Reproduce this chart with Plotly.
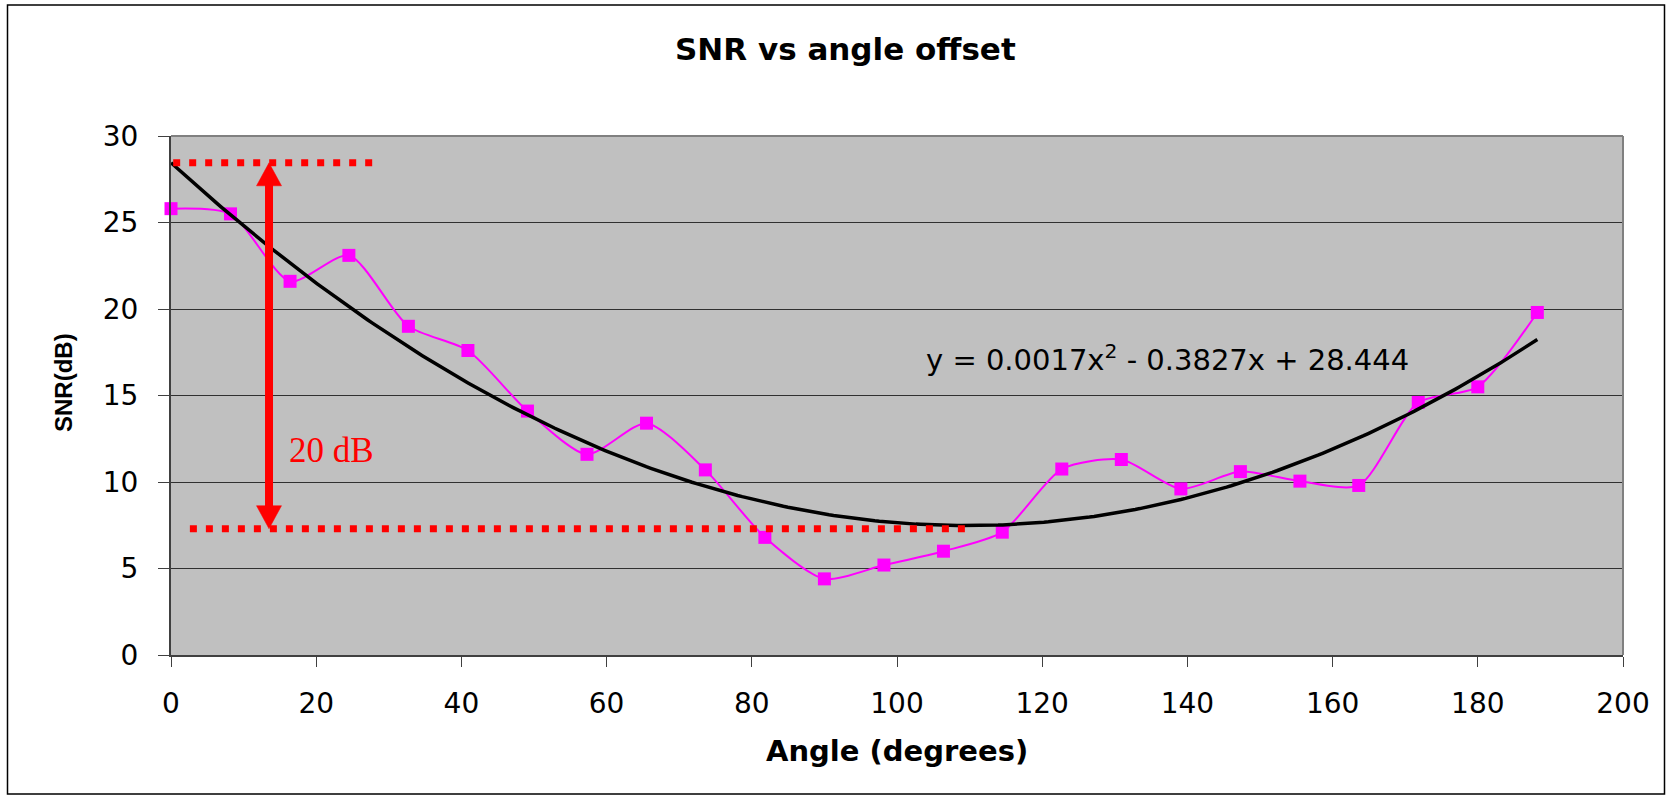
import numpy as np
import plotly.graph_objects as go

# Measured SNR at each angle offset
angle_deg = [0.0, 8.2, 16.4, 24.5, 32.7, 40.9, 49.1, 57.3, 65.5, 73.6, 81.8, 90.0,
             98.2, 106.4, 114.5, 122.7, 130.9, 139.1, 147.3, 155.5, 163.6, 171.8, 180.0, 188.2]
snr_db = [25.8, 25.5, 21.6, 23.1, 19.0, 17.6, 14.1, 11.6, 13.4, 10.7, 6.8, 4.4,
          5.2, 6.0, 7.1, 10.75, 11.3, 9.6, 10.6, 10.05, 9.8, 14.6, 15.5, 19.8]

x_ticks = [0, 20, 40, 60, 80, 100, 120, 140, 160, 180, 200]
y_ticks = [0, 5, 10, 15, 20, 25, 30]

title_text = "SNR vs angle offset"
x_title = "Angle (degrees)"
y_title = "SNR(dB)"
trend_label = "y = 0.0017x<sup>2</sup> - 0.3827x + 28.444"

# Range markers drawn over the plot
peak_level = 28.45
floor_level = 7.3
peak_span = [0.3, 28.0]
floor_span = [2.6, 109.4]
arrow_x = 13.5
span_label = "20 dB"

# Second-order polynomial trendline (least squares)
coeffs = np.polyfit(angle_deg, snr_db, 2)
trend_x = np.linspace(min(angle_deg), max(angle_deg), 300)
trend_y = np.polyval(coeffs, trend_x)

W, H = 1671, 796
L, R, T, B = 171, 48, 136, 141
pw, ph = W - L - R, H - T - B
x_max, y_max = 200, 30


def px_x(p):
    return (p - L) / pw


def px_y(p):
    return (H - B - p) / ph


def data_x(p):
    return (p - L) / pw * x_max


def data_y(p):
    return (H - B - p) / ph * y_max


# arrowhead size in pixels converted to axis units
head_len = 23 / ph * y_max
head_half = 12.5 / pw * x_max

fig = go.Figure()

fig.add_trace(go.Scatter(
    x=angle_deg, y=snr_db, mode="lines+markers",
    line=dict(color="#FF00FF", width=2, shape="spline", smoothing=0.7),
    marker=dict(symbol="square", size=13, color="#FF00FF"),
    cliponaxis=False, showlegend=False, hoverinfo="x+y",
))

fig.add_trace(go.Scatter(
    x=trend_x, y=trend_y, mode="lines",
    line=dict(color="black", width=3.5),
    showlegend=False, hoverinfo="skip",
))

red = "#FF0000"
shapes = [
    # dotted reference levels
    dict(type="line", xref="x", yref="y", x0=peak_span[0], x1=peak_span[1],
         y0=peak_level, y1=peak_level, line=dict(color=red, width=7, dash="7px,9px")),
    dict(type="line", xref="x", yref="y", x0=floor_span[0], x1=floor_span[1],
         y0=floor_level, y1=floor_level, line=dict(color=red, width=7, dash="7px,9px")),
    # double-headed arrow: shaft and two heads
    dict(type="line", xref="x", yref="y", x0=arrow_x, x1=arrow_x,
         y0=floor_level + head_len * 0.9, y1=peak_level - head_len * 0.9,
         line=dict(color=red, width=8)),
    dict(type="path", xref="x", yref="y",
         path=(f"M {arrow_x},{peak_level} "
               f"L {arrow_x - head_half},{peak_level - head_len} "
               f"L {arrow_x + head_half},{peak_level - head_len} Z"),
         fillcolor=red, line=dict(color=red, width=0.5)),
    dict(type="path", xref="x", yref="y",
         path=(f"M {arrow_x},{floor_level} "
               f"L {arrow_x - head_half},{floor_level + head_len} "
               f"L {arrow_x + head_half},{floor_level + head_len} Z"),
         fillcolor=red, line=dict(color=red, width=0.5)),
    # plot frame, top and right edges
    dict(type="line", xref="paper", yref="paper", x0=0, x1=1, y0=1, y1=1,
         line=dict(color="#808080", width=2)),
    dict(type="line", xref="paper", yref="paper", x0=1, x1=1, y0=0, y1=1,
         line=dict(color="#808080", width=2)),
    # outer chart border
    dict(type="rect", xref="paper", yref="paper",
         x0=px_x(7.5), x1=px_x(1664.5), y0=px_y(794), y1=px_y(5),
         line=dict(color="black", width=1.5)),
]

annotations = [
    dict(text=f"<b>{title_text}</b>", xref="paper", yref="paper",
         x=px_x(845), y=px_y(48.8), xanchor="center", yanchor="middle",
         showarrow=False, font=dict(family="DejaVu Sans", size=31, color="black")),
    dict(text=f"<b>{x_title}</b>", xref="paper", yref="paper",
         x=0.5, y=px_y(751), xanchor="center", yanchor="middle",
         showarrow=False, font=dict(family="DejaVu Sans", size=29, color="black")),
    dict(text=f"<b>{y_title}</b>", xref="paper", yref="paper",
         x=px_x(63.5), y=px_y(382.5), xanchor="center", yanchor="middle",
         textangle=-90, showarrow=False,
         font=dict(family="Liberation Sans", size=24, color="black")),
    dict(text=trend_label, xref="x", yref="y",
         x=data_x(924), y=data_y(357.5), xanchor="left", yanchor="middle",
         showarrow=False, font=dict(family="DejaVu Sans", size=29, color="black")),
    dict(text=span_label, xref="x", yref="y",
         x=data_x(286.5), y=data_y(450.3), xanchor="left", yanchor="middle",
         showarrow=False, font=dict(family="Liberation Serif", size=35, color=red)),
]

fig.update_layout(
    width=W, height=H,
    margin=dict(l=L, r=R, t=T, b=B),
    paper_bgcolor="white",
    plot_bgcolor="#C0C0C0",
    shapes=shapes,
    annotations=annotations,
    font=dict(family="DejaVu Sans", color="black"),
    xaxis=dict(
        range=[0, x_max], tickvals=x_ticks, ticktext=[str(v) for v in x_ticks],
        showgrid=False, zeroline=False,
        showline=True, linecolor="#404040", linewidth=2,
        ticks="outside", ticklen=10, tickwidth=1, tickcolor="#404040",
        tickfont=dict(family="DejaVu Sans", size=28, color="black"),
        ticklabelstandoff=12, fixedrange=True,
    ),
    yaxis=dict(
        range=[0, y_max], tickvals=y_ticks, ticktext=[str(v) for v in y_ticks],
        showgrid=True, gridcolor="#303030", gridwidth=1, zeroline=False,
        showline=True, linecolor="#404040", linewidth=2,
        ticks="outside", ticklen=11, tickwidth=1, tickcolor="#404040",
        tickfont=dict(family="DejaVu Sans", size=28, color="black"),
        ticklabelstandoff=14, fixedrange=True,
    ),
)

fig.write_html("out.html")
